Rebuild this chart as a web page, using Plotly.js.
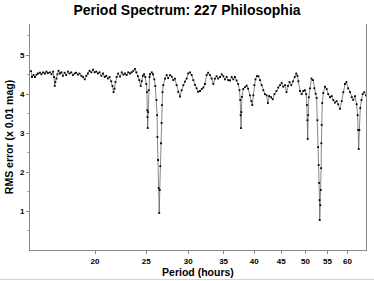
<!DOCTYPE html>
<html>
<head>
<meta charset="utf-8">
<script src="https://cdn.plot.ly/plotly-3.0.1.min.js"></script>
<style>html,body{margin:0;padding:0;background:#fff;}#chart{width:374px;height:281px;}</style>
</head>
<body>
<div id="chart"></div>
<script>
// Period (hours)
var periods = [
15.14,15.20,15.30,15.40,15.50,15.60,15.74,15.84,15.95,16.08,16.19,16.29,16.44,16.55,16.66,16.73,16.78,16.83,16.91,16.98,
17.06,17.17,17.28,17.39,17.52,17.64,17.77,17.90,18.04,18.17,18.31,18.43,18.57,18.70,18.85,18.99,19.12,19.25,19.39,19.53,
19.68,19.83,19.97,20.11,20.25,20.40,20.56,20.71,20.86,21.00,21.15,21.30,21.47,21.58,21.68,21.77,21.86,21.97,22.12,22.30,
22.47,22.62,22.79,22.95,23.11,23.29,23.46,23.63,23.80,23.95,24.10,24.25,24.40,24.51,24.62,24.76,24.89,25.00,25.07,25.11,
25.13,25.15,25.20,25.26,25.36,25.41,25.60,25.74,25.89,26.00,26.13,26.21,26.24,26.32,26.39,26.45,26.51,26.57,26.66,26.72,
26.77,26.83,26.92,27.12,27.32,27.50,27.72,27.93,28.12,28.32,28.53,28.72,28.95,29.16,29.37,29.58,29.80,30.00,30.24,30.46,
30.68,30.90,31.12,31.33,31.59,31.82,32.05,32.28,32.51,32.73,32.99,33.23,33.47,33.71,33.95,34.18,34.46,34.72,34.96,35.21,
35.47,35.71,35.99,36.26,36.51,36.77,37.04,37.29,37.51,37.64,37.70,37.76,37.82,37.92,38.13,38.41,38.69,38.95,39.27,39.49,
39.66,39.84,40.01,40.21,40.47,40.73,41.01,41.31,41.60,41.90,42.21,42.44,42.68,43.03,43.35,43.68,44.06,44.39,44.75,45.08,
45.39,45.73,46.02,46.31,46.64,47.00,47.35,47.70,48.03,48.27,48.47,48.81,49.17,49.51,49.87,50.15,50.30,50.41,50.47,50.58,
50.73,50.99,51.32,51.66,51.95,52.26,52.48,52.66,52.82,52.95,53.06,53.15,53.19,53.33,53.44,53.52,53.57,53.65,53.77,54.03,
54.42,54.82,55.19,55.63,56.04,56.43,56.84,57.25,57.64,58.10,58.53,58.94,59.37,59.75,60.20,60.69,61.14,61.56,62.01,62.46,
62.73,62.89,63.02,63.21,63.46,63.79,64.13,64.57,65.06
];
// RMS error (x 0.01 mag)
var rmsError = [
4.59,4.44,4.49,4.44,4.50,4.53,4.55,4.51,4.56,4.53,4.58,4.54,4.56,4.51,4.58,4.44,4.21,4.31,4.40,4.51,
4.60,4.53,4.56,4.47,4.55,4.49,4.58,4.53,4.56,4.49,4.53,4.55,4.50,4.53,4.47,4.44,4.38,4.47,4.53,4.60,
4.56,4.63,4.56,4.58,4.53,4.56,4.47,4.53,4.44,4.47,4.40,4.44,4.33,4.21,4.05,4.14,4.31,4.44,4.53,4.45,
4.56,4.50,4.53,4.49,4.56,4.53,4.56,4.60,4.65,4.56,4.46,4.36,4.21,4.33,4.47,4.51,4.44,4.26,4.05,3.59,
3.41,3.13,3.54,4.10,4.44,4.51,4.56,4.51,4.38,4.21,3.85,3.46,2.90,2.31,1.59,0.95,1.54,2.15,2.74,3.26,
3.72,4.05,4.23,4.40,4.49,4.41,4.49,4.45,4.36,4.40,4.23,4.06,3.94,4.10,4.23,4.32,4.40,4.53,4.56,4.49,
4.36,4.24,4.15,4.06,4.08,4.13,4.17,4.26,4.49,4.55,4.49,4.40,4.26,4.40,4.46,4.40,4.44,4.51,4.46,4.38,
4.44,4.36,4.35,4.44,4.38,4.44,4.35,4.26,4.10,3.85,3.46,3.13,3.54,3.93,4.13,4.18,4.22,4.14,3.97,3.82,
3.72,3.97,4.23,4.38,4.46,4.46,4.36,4.23,4.10,4.00,3.97,3.77,3.95,3.92,3.87,4.00,4.08,4.17,4.23,4.29,
4.19,4.23,4.05,4.21,4.31,4.23,4.33,4.44,4.53,4.47,4.33,4.08,4.00,4.08,4.10,4.00,3.72,3.33,2.85,3.46,
3.92,4.15,4.40,4.36,4.15,4.01,3.90,3.33,2.64,2.18,1.72,1.28,0.77,1.15,1.54,2.10,2.74,3.21,3.77,4.03,
4.19,4.13,4.00,3.92,3.95,3.85,3.78,3.82,3.74,3.62,3.82,4.05,4.26,4.31,4.15,4.05,3.92,3.85,3.95,3.74,
3.46,3.08,2.59,3.08,3.64,3.85,4.00,4.05,3.97
];
var xTicks = [20, 25, 30, 35, 40, 45, 50, 55, 60];
var yTicks = [1, 2, 3, 4, 5];

var fontFam = '"Liberation Sans", Arial, sans-serif';
var trace = {
  x: periods, y: rmsError, type: 'scatter', mode: 'lines+markers',
  line: {color: '#555', width: 0.7},
  marker: {color: '#000', size: 1.8, symbol: 'square'},
  hoverinfo: 'skip'
};
var layout = {
  width: 374, height: 281,
  margin: {l: 30, r: 8, t: 24, b: 31},
  paper_bgcolor: '#fff', plot_bgcolor: '#fff',
  showlegend: false,
  title: {text: '<b>Period Spectrum: 227 Philosophia</b>', x: 0.5, xref: 'container', xanchor: 'center',
          y: 1, yref: 'container', yanchor: 'top', pad: {t: 5},
          font: {family: fontFam, size: 14, color: '#000'}},
  xaxis: {
    type: 'log', range: [Math.log10(15.07), Math.log10(65.06)],
    tickvals: xTicks, ticktext: xTicks.map(String),
    ticks: 'outside', ticklen: 3, tickcolor: '#888', tickwidth: 1,
    showline: true, linecolor: '#888', linewidth: 1, mirror: false,
    showgrid: false, zeroline: false,
    tickfont: {family: fontFam, size: 8, color: '#000', weight: 'bold'},
    title: {text: '<b>Period (hours)</b>', standoff: 2, font: {family: fontFam, size: 10.5, color: '#000'}}
  },
  yaxis: {
    range: [0, 5.8],
    tickvals: yTicks, ticktext: yTicks.map(String),
    ticks: 'outside', ticklen: 3, tickcolor: '#888', tickwidth: 1,
    minor: {tickvals: [0.5, 1.5, 2.5, 3.5, 4.5, 5.5], ticks: 'outside', ticklen: 2, tickcolor: '#aaa'},
    showline: true, linecolor: '#888', linewidth: 1, mirror: true,
    showgrid: false, zeroline: false,
    tickfont: {family: fontFam, size: 8, color: '#000', weight: 'bold'},
    title: {text: '<b>RMS error (x 0.01 mag)</b>', standoff: 4, font: {family: fontFam, size: 10.5, color: '#000'}}
  },
  shapes: [{type: 'line', xref: 'paper', yref: 'paper', x0: -0.0893, x1: 1.0238, y0: -0.1305, y1: -0.1305,
            line: {color: '#d4d4d4', width: 1}}]
};
Plotly.newPlot('chart', [trace], layout, {displayModeBar: false, staticPlot: true});
</script>
</body>
</html>
